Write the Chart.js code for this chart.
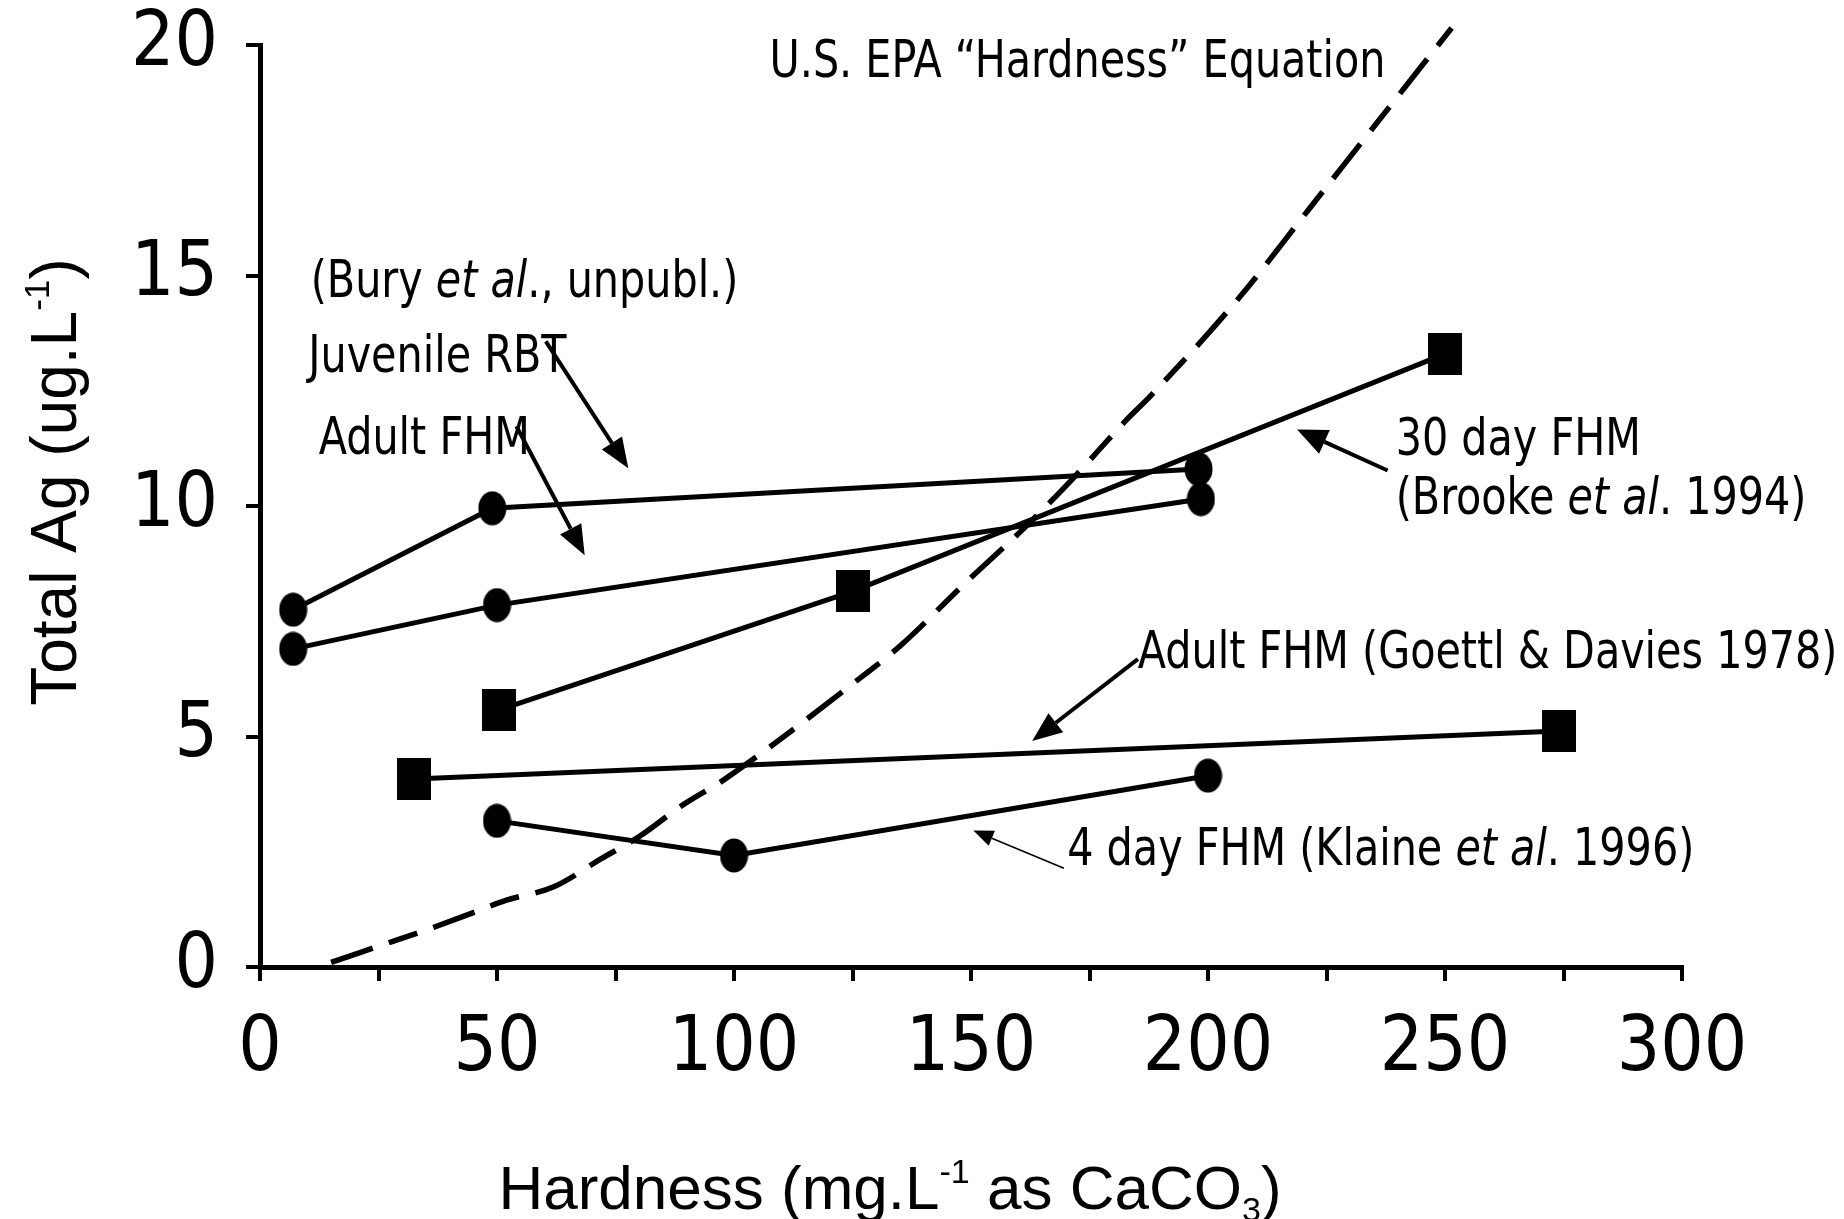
<!DOCTYPE html>
<html><head><meta charset="utf-8">
<script src="https://cdn.jsdelivr.net/npm/chart.js@4"></script>
<style>html,body{margin:0;padding:0;background:#fff;}#wrap{width:1844px;height:1219px;position:relative;}</style>
</head><body><div id="wrap"><canvas id="c"></canvas></div>
<script>
// ---- data ----
const xTickValues = [0,25,50,75,100,125,150,175,200,225,250,275,300];
const xTickLabels = [0,50,100,150,200,250,300];
const yTickValues = [0,5,10,15,20];

const juvRbtX = [7, 49, 198];
const juvRbtY = [7.75, 9.95, 10.8];
const adultFhmBuryX = [7, 50, 198.5];
const adultFhmBuryY = [6.9, 7.85, 10.15];
const brookeX = [50.5, 125, 250];
const brookeY = [5.58, 8.15, 13.3];
const goettlX = [32.5, 274];
const goettlY = [4.08, 5.12];
const klaineX = [50, 100, 200];
const klaineY = [3.17, 2.42, 4.15];
const epaX = [15, 25, 35, 45, 52, 62, 72, 80, 89, 98, 127, 135, 149, 161, 171, 183, 188, 207, 221, 251.4];
const epaY = [0.1, 0.45, 0.8, 1.18, 1.45, 1.74, 2.35, 2.83, 3.5, 4.07, 6.3, 6.96, 8.35, 9.5, 10.54, 11.89, 12.4, 14.57, 16.4, 20.37];

const xTitleParts = [{t:'Hardness (mg.L'},{t:'-1',sup:true},{t:' as CaCO'},{t:'3',sub:true},{t:')'}];
const yTitleParts = [{t:'Total Ag (ug.L'},{t:'-1',sup:true},{t:')'}];

const notes = [
  {x:107.5, y:19.31, parts:[{t:'U.S. EPA \u201cHardness\u201d Equation'}]},
  {x:10.7, y:14.54, parts:[{t:'(Bury '},{t:'et al',it:true},{t:'., unpubl.)'}]},
  {x:10.2, y:12.91, parts:[{t:'Juvenile RBT'}]},
  {x:12.4, y:11.12, parts:[{t:'Adult FHM'}]},
  {x:239.6, y:11.1, parts:[{t:'30 day FHM'}]},
  {x:239.6, y:9.82, parts:[{t:'(Brooke '},{t:'et al',it:true},{t:'. 1994)'}]},
  {x:185.2, y:6.48, parts:[{t:'Adult FHM (Goettl & Davies 1978)'}]},
  {x:170.3, y:2.22, parts:[{t:'4 day FHM (Klaine '},{t:'et al',it:true},{t:'. 1996)'}]}
];
const arrows = [
  {x1:60.3, y1:13.57, x2:77.7, y2:10.82, w:4, hl:30, hw:12},
  {x1:54.1, y1:11.73, x2:68.5, y2:8.93, w:4, hl:30, hw:12},
  {x1:237.9, y1:10.77, x2:218.8, y2:11.66, w:4, hl:30, hw:13},
  {x1:185.2, y1:6.68, x2:162.9, y2:4.9, w:4, hl:30, hw:12},
  {x1:169.6, y1:2.14, x2:150.5, y2:2.96, w:1.6, hl:20, hw:8}
];

// ---- styles ----
const COND = "'DejaVu Sans Condensed','Liberation Sans',sans-serif";
const REG = "'Liberation Sans','DejaVu Sans',sans-serif";

function makeMarker(kind){
  const c = document.createElement('canvas');
  if (kind === 'ellipse'){ c.width = 29; c.height = 35;
    const g = c.getContext('2d'); g.fillStyle = '#000';
    g.beginPath(); g.ellipse(14.5,17.5,14,17,0,0,Math.PI*2); g.fill();
  } else { c.width = 34; c.height = 42;
    const g = c.getContext('2d'); g.fillStyle = '#000'; g.fillRect(0,0,34,42);
  }
  return c;
}
const ELL = makeMarker('ellipse');
const SQ = makeMarker('rect');

function pts(xs, ys){ return xs.map((x,i)=>({x:x, y:ys[i]})); }
function series(label, xs, ys, marker){
  return {label, data: pts(xs, ys), showLine:true, borderColor:'#000', borderWidth:5,
    pointStyle: marker, pointRadius: 17, pointHoverRadius:17, backgroundColor:'#000'};
}

function measureParts(ctx, parts, size, family){
  let w = 0;
  for (const p of parts){
    const s = (p.sup||p.sub) ? size*0.55 : size;
    ctx.font = (p.it?'italic ':'') + s + 'px ' + family;
    w += ctx.measureText(p.t).width;
  }
  return w;
}
function drawParts(ctx, x, y, parts, size, family, sx){
  sx = sx || 1;
  ctx.save();
  ctx.translate(x, y);
  ctx.scale(sx, 1);
  let cx = 0;
  for (const p of parts){
    const s = (p.sup||p.sub) ? size*0.55 : size;
    ctx.font = (p.it?'italic ':'') + s + 'px ' + family;
    const dy = p.sup ? -size*0.42 : (p.sub ? size*0.2 : 0);
    ctx.fillText(p.t, cx, dy);
    cx += ctx.measureText(p.t).width;
  }
  ctx.restore();
}

const annot = {
  id:'annot',
  afterDatasetsDraw(chart){
    const ctx = chart.ctx, xs = chart.scales.x, ys = chart.scales.y, ca = chart.chartArea;
    ctx.save();
    ctx.fillStyle = '#000'; ctx.strokeStyle = '#000';
    ctx.textBaseline = 'alphabetic'; ctx.textAlign = 'left';
    for (const n of notes){
      drawParts(ctx, xs.getPixelForValue(n.x), ys.getPixelForValue(n.y), n.parts, 51, COND, 0.9);
    }
    for (const a of arrows){
      const x1 = xs.getPixelForValue(a.x1), y1 = ys.getPixelForValue(a.y1);
      const x2 = xs.getPixelForValue(a.x2), y2 = ys.getPixelForValue(a.y2);
      const ang = Math.atan2(y2-y1, x2-x1);
      const bx = x2 - Math.cos(ang)*a.hl, by = y2 - Math.sin(ang)*a.hl;
      ctx.lineWidth = a.w;
      ctx.beginPath(); ctx.moveTo(x1,y1); ctx.lineTo(bx,by); ctx.stroke();
      ctx.beginPath(); ctx.moveTo(x2,y2);
      ctx.lineTo(bx + Math.sin(ang)*a.hw, by - Math.cos(ang)*a.hw);
      ctx.lineTo(bx - Math.sin(ang)*a.hw, by + Math.cos(ang)*a.hw);
      ctx.closePath(); ctx.fill();
    }
    // axis titles
    const tsize = 62;
    const xw = measureParts(ctx, xTitleParts, tsize, REG);
    drawParts(ctx, ca.left + 630 - xw/2, ca.bottom + 242, xTitleParts, tsize, REG);
    const yw = measureParts(ctx, yTitleParts, 64, REG);
    ctx.translate(ca.left - 184, ca.top + 437);
    ctx.rotate(-Math.PI/2);
    drawParts(ctx, -yw/2, 0, yTitleParts, 64, REG);
    ctx.restore();
  }
};

new Chart(document.getElementById('c'), {
  type:'scatter',
  data:{datasets:[
    series('Juvenile RBT (Bury et al., unpubl.)', juvRbtX, juvRbtY, ELL),
    series('Adult FHM (Bury et al., unpubl.)', adultFhmBuryX, adultFhmBuryY, ELL),
    series('30 day FHM (Brooke et al. 1994)', brookeX, brookeY, SQ),
    series('Adult FHM (Goettl & Davies 1978)', goettlX, goettlY, SQ),
    series('4 day FHM (Klaine et al. 1996)', klaineX, klaineY, ELL),
    {label:'U.S. EPA "Hardness" Equation', data: pts(epaX, epaY), showLine:true, borderColor:'#000',
     borderWidth:5.5, borderDash:[44,17,30,17], pointRadius:0, pointHoverRadius:0, clip:false,
     cubicInterpolationMode:'monotone'}
  ]},
  options:{
    responsive:true, maintainAspectRatio:false, animation:false,
    layout:{padding:{left:0, right:162, top:45, bottom:0}},
    plugins:{legend:{display:false}, tooltip:{enabled:false}},
    scales:{
      x:{type:'linear', min:0, max:300,
        afterBuildTicks(s){ s.ticks = xTickValues.map(v=>({value:v})); },
        afterFit(s){ s.height = 252; s.paddingLeft = 0; s.paddingRight = 0; },
        border:{display:true, color:'#000', width:5},
        grid:{drawOnChartArea:false, drawTicks:true, tickLength:14, color:'#000', lineWidth:4},
        ticks:{autoSkip:false, maxRotation:0, padding:24, color:'#000',
          font:{family:COND, size:76},
          callback:(v)=> xTickLabels.includes(v) ? String(v) : ''}
      },
      y:{type:'linear', min:0, max:20,
        afterBuildTicks(s){ s.ticks = yTickValues.map(v=>({value:v})); },
        afterFit(s){ s.width = 260; s.paddingTop = 0; s.paddingBottom = 0; },
        border:{display:true, color:'#000', width:5},
        grid:{drawOnChartArea:false, drawTicks:true, tickLength:14, color:'#000', lineWidth:4},
        ticks:{padding:28, color:'#000', font:{family:COND, size:76}}
      }
    }
  },
  plugins:[annot]
});
</script></body></html>
